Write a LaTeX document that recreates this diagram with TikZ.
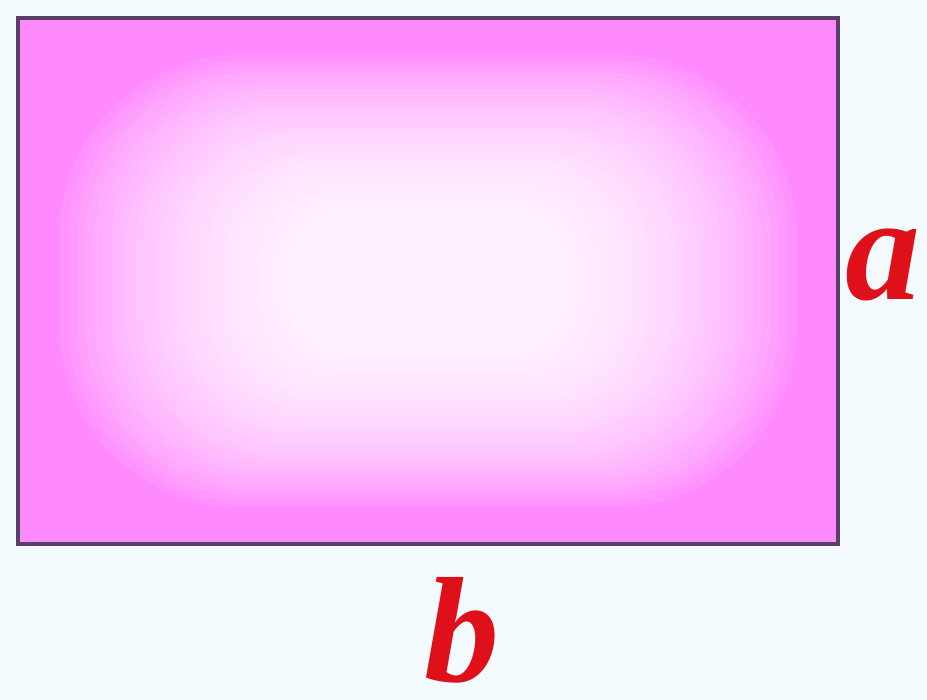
\documentclass[tikz,border=0pt]{standalone}
\usepackage{fontspec}
\newfontfamily\labelfont{Liberation Serif}
\definecolor{bgc}{HTML}{F3FBFE}
\definecolor{pinkc}{HTML}{FF8AFF}
\definecolor{edgec}{HTML}{5A3F66}
\definecolor{labc}{HTML}{E0101A}
\tikzset{
  lab/.style={text=labc, font=\labelfont\bfseries\itshape\fontsize{150}{150}\selectfont, inner sep=0pt},
  glow/.style={fill=white, fill opacity=0.07, draw=none}
}
\begin{document}
\begin{tikzpicture}[x=1pt,y=-1pt]
\fill[bgc] (0,0) rectangle (927,700);
\useasboundingbox (0,0) rectangle (927,700);
\coordinate (tl) at (18,18);
\coordinate (br) at (838,544);
\coordinate (c) at (428,281);
\fill[pinkc] (tl) rectangle (br);
\begin{scope}
\clip (tl) rectangle (br);
\foreach \t in {0,...,59}{
  \pgfmathsetmacro{\s}{(1-\t/59)^1.8}
  \pgfmathsetmacro{\hw}{410*(0.18+0.72*\s)}
  \pgfmathsetmacro{\hh}{263*(0.12+0.74*\s)}
  \pgfmathsetmacro{\rr}{min(\hw,\hh)*0.8}
  \fill[glow, rounded corners=\rr pt] ([shift={(-\hw,-\hh)}]c) rectangle ([shift={(\hw,\hh)}]c);
}
\end{scope}
\draw[edgec, line width=3.5pt] (tl) rectangle (br);
\node[lab, anchor=base] (a) at (883,300) {a};
\node[lab, anchor=base] (b) at (462,681) {b};
\end{tikzpicture}
\end{document}
